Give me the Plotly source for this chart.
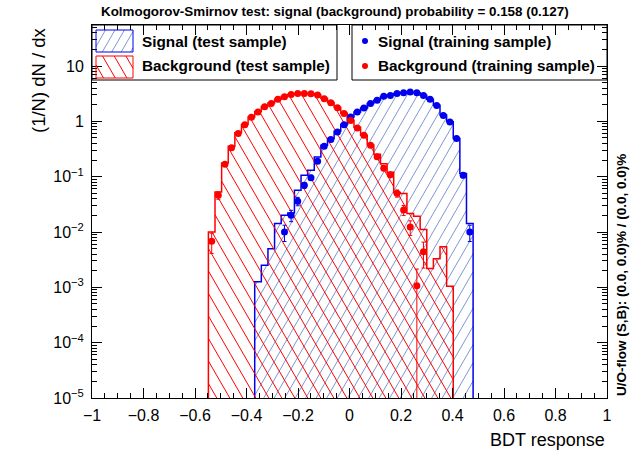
import math
import plotly.graph_objects as go

# ---------------- data ----------------
N_BINS = 40
X_MIN, X_MAX = -0.548, 0.480

sig_test = [0, 0, 0, 0, 0, 0, 0, 0.00126, 0.0025, 0.005, 0.0142, 0.020, 0.022, 0.057,
            0.106, 0.13, 0.227, 0.37, 0.49, 0.66, 0.88, 1.2, 1.48, 1.75, 2.1, 2.4, 2.8,
            2.95, 3.2, 3.3, 3.35, 3.3, 2.95, 2.5, 1.95, 1.3, 0.98, 0.49, 0.114, 0.0142]
sig_train = [0, 0, 0, 0, 0, 0, 0, 0, 0, 0, 0, 0.010, 0.020, 0.036, 0.07, 0.096, 0.19,
             0.354, 0.47, 0.64, 0.87, 1.2, 1.47, 1.74, 2.09, 2.4, 2.83, 2.94, 3.2, 3.3,
             3.38, 3.3, 2.94, 2.5, 1.94, 1.28, 0.97, 0.49, 0.106, 0.010]
bkg_test = [0.010, 0.053, 0.177, 0.354, 0.62, 0.88, 1.2, 1.5, 1.85, 2.15, 2.5, 2.8, 3.05,
            3.15, 3.2, 3.15, 3.0, 2.6, 2.2, 1.78, 1.4, 1.05, 0.78, 0.56, 0.375, 0.254,
            0.172, 0.12, 0.052, 0.0495, 0.0216, 0.0193, 0.0111, 0.0022, 0.0033, 0.0054,
            0.00105, 0, 0, 0]
bkg_train = [0.0068, 0.046, 0.167, 0.332, 0.60, 0.87, 1.18, 1.47, 1.84, 2.11, 2.5, 2.79,
             3.07, 3.2, 3.2, 3.15, 2.98, 2.57, 2.17, 1.76, 1.38, 1.04, 0.757, 0.558,
             0.369, 0.23, 0.142, 0.108, 0.05, 0.025, 0.0123, 0.00107, 0.0044,
             0, 0, 0, 0, 0, 0, 0]
# one training event corresponds to this many units of (1/N) dN/dx (from the 1-entry bins)
ONE_EVENT = 0.00107

x_tick_vals = [-1, -0.8, -0.6, -0.4, -0.2, 0, 0.2, 0.4, 0.6, 0.8, 1]
x_tick_text = ["\u22121", "\u22120.8", "\u22120.6", "\u22120.4", "\u22120.2", "0",
               "0.2", "0.4", "0.6", "0.8", "1"]
y_tick_vals = [1e-5, 1e-4, 1e-3, 1e-2, 1e-1, 1, 10]
y_tick_text = ["10<sup>\u22125</sup>", "10<sup>\u22124</sup>", "10<sup>\u22123</sup>",
               "10<sup>\u22122</sup>", "10<sup>\u22121</sup>", "1", "10"]

TITLE = "Kolmogorov-Smirnov test: signal (background) probability = 0.158 (0.127)"
UOFLOW = "U/O-flow (S,B): (0.0, 0.0)% / (0.0, 0.0)%"
X_TITLE = "BDT response"
Y_TITLE = "(1/N) dN / dx"
LEG_LEFT = ["Signal (test sample)", "Background (test sample)"]
LEG_RIGHT = ["Signal (training sample)", "Background (training sample)"]

# ---------------- style / geometry ----------------
W, H = 631, 450
ML, MR, MT, MB = 92, 24, 25, 52
PL, PR, PT, PB = ML, W - MR, MT, H - MB
XR = (-1.0, 1.0)
YR = (-5.0, 1.741)   # log10 range
FONT = "Liberation Sans, Arial, Helvetica, sans-serif"
SIG_LINE = "#0000ee"
SIG_FILL = "#7d99d1"
BKG_LINE = "#ff0000"
BKG_FILL = "#ff0000"
FLOOR = 1e-8

edges = [X_MIN + i * (X_MAX - X_MIN) / N_BINS for i in range(N_BINS + 1)]
centers = [(edges[i] + edges[i + 1]) / 2 for i in range(N_BINS)]


def x2px(x):
    return PL + (x - XR[0]) / (XR[1] - XR[0]) * (PR - PL)


def y2px(v):
    return PB - (math.log10(v) - YR[0]) / (YR[1] - YR[0]) * (PB - PT)


def px2x(p):
    return XR[0] + (p - PL) / (PR - PL) * (XR[1] - XR[0])


def px2y(p):
    return 10 ** (YR[0] + (PB - p) / (PB - PT) * (YR[1] - YR[0]))


def step_outline(vals):
    idx = [i for i, v in enumerate(vals) if v > 0]
    a, b = idx[0], idx[-1]
    xs, ys = [edges[a]], [FLOOR]
    for i in range(a, b + 1):
        xs += [edges[i], edges[i + 1]]
        ys += [vals[i], vals[i]]
    xs.append(edges[b + 1])
    ys.append(FLOOR)
    return xs, ys


def hatch_px(rects, slope, spacing, phase=0.0):
    """rects: (xa, xb, ytop, ybot) in px. returns list of segments in px."""
    m = slope
    dc = spacing * abs(m)
    cs = [y - m * x for x in (0, W) for y in (0, H)]
    cmin, cmax = min(cs), max(cs)
    k0 = math.floor((cmin - phase) / dc)
    k1 = math.ceil((cmax - phase) / dc)
    out = []
    for k in range(k0, k1 + 1):
        c = phase + k * dc
        cur = None
        segs = []
        for (xa, xb, yt, yb) in rects:
            x1, x2 = (yt - c) / m, (yb - c) / m
            lo, hi = max(xa, min(x1, x2)), min(xb, max(x1, x2))
            if lo < hi:
                if cur is not None and abs(cur[1] - lo) < 1e-6:
                    cur[1] = hi
                else:
                    if cur is not None:
                        segs.append(cur)
                    cur = [lo, hi]
            else:
                if cur is not None:
                    segs.append(cur)
                    cur = None
        if cur is not None:
            segs.append(cur)
        for s in segs:
            out.append((s[0], m * s[0] + c, s[1], m * s[1] + c))
    return out


def hist_rects(vals):
    r = []
    for i, v in enumerate(vals):
        if v > 0:
            r.append((x2px(edges[i]), x2px(edges[i + 1]), y2px(v), PB + 5))
    return r


def segs_to_data(segs):
    xs, ys = [], []
    for (xa, ya, xb, yb) in segs:
        xs += [px2x(xa), px2x(xb), None]
        ys += [px2y(ya), px2y(yb), None]
    return xs, ys


TAN = math.tan(math.radians(60))
SIG_SLOPE, SIG_SP = -TAN, 10.5
BKG_SLOPE, BKG_SP = TAN, 13.0

fig = go.Figure()

# signal test: hatch + outline
hx, hy = segs_to_data(hatch_px(hist_rects(sig_test), SIG_SLOPE, SIG_SP))
fig.add_trace(go.Scatter(x=hx, y=hy, mode="lines", line=dict(color=SIG_FILL, width=1),
                         hoverinfo="skip", showlegend=False))
ox, oy = step_outline(sig_test)
fig.add_trace(go.Scatter(x=ox, y=oy, mode="lines", line=dict(color=SIG_LINE, width=1.5),
                         showlegend=False))

# background test: hatch + outline
hx, hy = segs_to_data(hatch_px(hist_rects(bkg_test), BKG_SLOPE, BKG_SP))
fig.add_trace(go.Scatter(x=hx, y=hy, mode="lines", line=dict(color=BKG_FILL, width=1),
                         hoverinfo="skip", showlegend=False))
ox, oy = step_outline(bkg_test)
fig.add_trace(go.Scatter(x=ox, y=oy, mode="lines", line=dict(color=BKG_LINE, width=1.5),
                         showlegend=False))


def train_trace(vals, color):
    xs, ys, ep, em = [], [], [], []
    for c, v in zip(centers, vals):
        if v > 0:
            e = math.sqrt(v * ONE_EVENT)
            xs.append(c)
            ys.append(v)
            ep.append(e)
            em.append(e if v - e > 1e-9 else v * (1 - 1e-6))
    return go.Scatter(x=xs, y=ys, mode="markers",
                      marker=dict(color=color, size=7, symbol="circle"),
                      error_y=dict(type="data", array=ep, arrayminus=em, symmetric=False,
                                   color=color, thickness=1, width=2),
                      showlegend=False)


fig.add_trace(train_trace(sig_train, SIG_LINE))
fig.add_trace(train_trace(bkg_train, BKG_LINE))


# ---------------- legend (drawn as shapes) ----------------
def pxp(x):
    return (x - PL) / (PR - PL)


def pyp(y):
    return (PB - y) / (PB - PT)


shapes = []
for (x0, x1) in [(92, 337), (352, 607)]:
    shapes.append(dict(type="rect", xref="paper", yref="paper", x0=pxp(x0), x1=pxp(x1),
                       y0=pyp(80), y1=pyp(25), line=dict(color="black", width=1),
                       fillcolor="white", layer="below"))

for (y0, y1, slope, sp, lc, fc) in [(30, 52, SIG_SLOPE, SIG_SP, SIG_LINE, SIG_FILL),
                                    (56, 78, BKG_SLOPE, BKG_SP, BKG_LINE, BKG_FILL)]:
    segs = hatch_px([(96, 133, y0, y1)], slope, sp * 0.9)
    path = " ".join("M%.5f,%.5f L%.5f,%.5f" % (pxp(a), pyp(b), pxp(c), pyp(d))
                    for (a, b, c, d) in segs)
    shapes.append(dict(type="path", xref="paper", yref="paper", path=path,
                       line=dict(color=fc, width=1), layer="above"))
    shapes.append(dict(type="rect", xref="paper", yref="paper", x0=pxp(96), x1=pxp(133),
                       y0=pyp(y1), y1=pyp(y0), line=dict(color=lc, width=1),
                       fillcolor="rgba(0,0,0,0)", layer="above"))

for (yc, col) in [(41, SIG_LINE), (66, BKG_LINE)]:
    shapes.append(dict(type="circle", xref="paper", yref="paper",
                       x0=pxp(365 - 3), x1=pxp(365 + 3), y0=pyp(yc + 3), y1=pyp(yc - 3),
                       line=dict(color=col, width=0), fillcolor=col, layer="above"))

annotations = []
for txt, yc in zip(LEG_LEFT, (41, 66)):
    annotations.append(dict(text="<b>%s</b>" % txt, xref="paper", yref="paper",
                            x=pxp(140), y=pyp(yc), xanchor="left", yanchor="middle",
                            showarrow=False, font=dict(family=FONT, size=15.3, color="black")))
for txt, yc in zip(LEG_RIGHT, (41, 66)):
    annotations.append(dict(text="<b>%s</b>" % txt, xref="paper", yref="paper",
                            x=pxp(376), y=pyp(yc), xanchor="left", yanchor="middle",
                            showarrow=False, font=dict(family=FONT, size=15.3, color="black")))

annotations.append(dict(text="<b>%s</b>" % TITLE, xref="paper", yref="paper",
                        x=pxp(99), y=pyp(12), xanchor="left", yanchor="middle",
                        showarrow=False, font=dict(family=FONT, size=13.4, color="black")))
annotations.append(dict(text="<b>%s</b>" % UOFLOW, xref="paper", yref="paper",
                        x=pxp(621), y=pyp(398), xanchor="center", yanchor="bottom",
                        textangle=-90, showarrow=False,
                        font=dict(family=FONT, size=13.5, color="black")))
annotations.append(dict(text=X_TITLE, xref="paper", yref="paper",
                        x=1, y=pyp(440), xanchor="right", yanchor="middle",
                        showarrow=False, font=dict(family=FONT, size=18, color="black")))
annotations.append(dict(text=Y_TITLE, xref="paper", yref="paper",
                        x=pxp(38), y=1, xanchor="center", yanchor="top", textangle=-90,
                        showarrow=False, font=dict(family=FONT, size=18.5, color="black")))

fig.update_layout(
    width=W, height=H, autosize=False,
    margin=dict(l=ML, r=MR, t=MT, b=MB, pad=0),
    paper_bgcolor="white", plot_bgcolor="white",
    showlegend=False,
    shapes=shapes, annotations=annotations,
    font=dict(family=FONT, size=16, color="black"),
)
fig.update_xaxes(range=list(XR), tickmode="array", tickvals=x_tick_vals, ticktext=x_tick_text,
                 ticks="inside", ticklen=10, tickwidth=1, tickcolor="black",
                 showline=True, linecolor="black", linewidth=1, mirror="allticks",
                 showgrid=False, zeroline=False, ticklabelstandoff=3,
                 tickfont=dict(family=FONT, size=16, color="black"),
                 minor=dict(ticks="inside", ticklen=5, tickwidth=1, tickcolor="black",
                            dtick=0.05, tick0=0, showgrid=False))
fig.update_yaxes(type="log", range=list(YR), tickmode="array", tickvals=y_tick_vals,
                 ticktext=y_tick_text,
                 ticks="inside", ticklen=10, tickwidth=1, tickcolor="black",
                 showline=True, linecolor="black", linewidth=1, mirror="allticks",
                 showgrid=False, zeroline=False, ticklabelstandoff=4,
                 tickfont=dict(family=FONT, size=16, color="black"),
                 minor=dict(ticks="inside", ticklen=5, tickwidth=1, tickcolor="black",
                            dtick="D1", showgrid=False))

fig.write_html("out.html")
